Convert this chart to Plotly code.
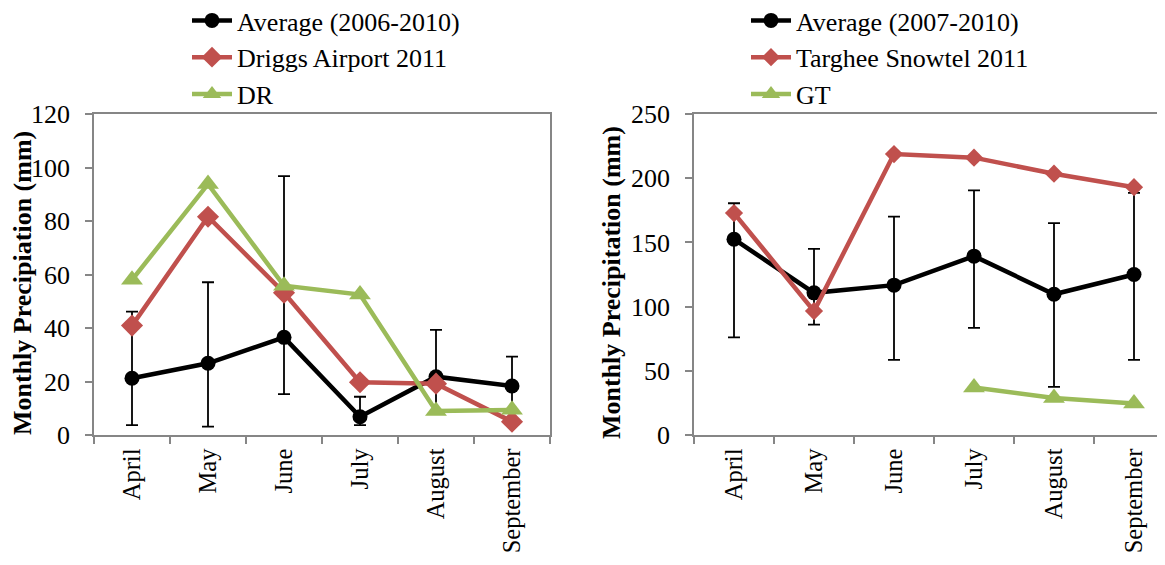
import plotly.graph_objects as go

months = ["April", "May", "June", "July", "August", "September"]

# Left panel (Driggs)
avg_left = [21.2, 26.8, 36.5, 6.8, 21.8, 18.3]
avg_left_hi = [46.1, 57.1, 96.8, 14.3, 39.3, 29.3]
avg_left_lo = [3.7, 3.1, 15.3, 3.7, 8.0, 9.0]
driggs_2011 = [40.9, 81.6, 53.2, 19.7, 19.2, 5.0]
dr = [58.0, 93.8, 55.8, 52.5, 9.0, 9.4]

# Right panel (Targhee)
avg_right = [152.5, 110.7, 116.7, 139.3, 109.6, 125.0]
avg_right_hi = [180.5, 145.0, 170.0, 190.5, 165.0, 188.5]
avg_right_lo = [76.0, 86.0, 58.5, 83.5, 37.5, 58.5]
targhee_2011 = [172.8, 96.5, 218.8, 216.0, 203.5, 193.0]
gt = [None, None, None, 37.0, 28.8, 24.5]

y_title_left = "Monthly Precipiation (mm)"
y_title_right = "Monthly Precipitation (mm)"

BLACK = "#000000"
RED = "#C0504D"
GREEN = "#9BBB59"
AXIS = "#868686"
FONT = "Liberation Serif"
FS = 26
TFS = 26
XFS = 24.5

fig = go.Figure()

def err(avg, hi, lo):
    return dict(type="data", symmetric=False,
                array=[h - a for h, a in zip(hi, avg)],
                arrayminus=[a - l for a, l in zip(avg, lo)],
                color="black", thickness=1.8, width=6)

fig.add_trace(go.Scatter(x=months, y=avg_left, name="Average (2006-2010)", mode="lines+markers",
                         line=dict(color=BLACK, width=4.5), marker=dict(symbol="circle", size=15, color=BLACK),
                         error_y=err(avg_left, avg_left_hi, avg_left_lo), xaxis="x", yaxis="y", legend="legend"))
fig.add_trace(go.Scatter(x=months, y=driggs_2011, name="Driggs Airport 2011", mode="lines+markers",
                         line=dict(color=RED, width=4.5), marker=dict(symbol="diamond", size=17, color=RED),
                         xaxis="x", yaxis="y", legend="legend"))
fig.add_trace(go.Scatter(x=months, y=dr, name="DR", mode="lines+markers",
                         line=dict(color=GREEN, width=4.5), marker=dict(symbol="triangle-up", size=19, color=GREEN),
                         xaxis="x", yaxis="y", legend="legend"))

fig.add_trace(go.Scatter(x=months, y=avg_right, name="Average (2007-2010)", mode="lines+markers",
                         line=dict(color=BLACK, width=4.5), marker=dict(symbol="circle", size=15, color=BLACK),
                         error_y=err(avg_right, avg_right_hi, avg_right_lo), xaxis="x2", yaxis="y2", legend="legend2"))
fig.add_trace(go.Scatter(x=months, y=targhee_2011, name="Targhee Snowtel 2011", mode="lines+markers",
                         line=dict(color=RED, width=4.5), marker=dict(symbol="diamond", size=14, color=RED),
                         xaxis="x2", yaxis="y2", legend="legend2"))
fig.add_trace(go.Scatter(x=months, y=gt, name="GT", mode="lines+markers",
                         line=dict(color=GREEN, width=4.5), marker=dict(symbol="triangle-up", size=19, color=GREEN),
                         xaxis="x2", yaxis="y2", legend="legend2"))

# The page adds an 8px body margin around the figure; size the figure so the page is 1165x565.
OFF = 8
W, H = 1165 - 2 * OFF, 565 - 2 * OFF
ydom = [(H - (435 - OFF)) / H, (H - (114 - OFF)) / H]

xcommon = dict(type="category", categoryorder="array", categoryarray=months, tickson="boundaries",
               ticks="outside", ticklen=7, tickcolor=AXIS, tickwidth=1.5,
               showline=True, linecolor=AXIS, linewidth=1.5, showgrid=False, zeroline=False,
               tickangle=-90, tickfont=dict(family=FONT, size=XFS, color="black"), automargin=False,
               ticklabelstandoff=2)
ycommon = dict(ticks="outside", ticklen=7, tickcolor=AXIS, tickwidth=1.5,
               showline=True, linecolor=AXIS, linewidth=1.5, showgrid=False, zeroline=False,
               tickfont=dict(family=FONT, size=TFS, color="black"), automargin=False,
               ticklabelstandoff=10)

right_x0 = 694 - OFF
right_end = -0.5 + (W - right_x0) / 80.0

title_y = (H - (283 - OFF)) / H

fig.update_layout(
    width=W, height=H, margin=dict(l=0, r=0, t=0, b=0, autoexpand=False),
    paper_bgcolor="white", plot_bgcolor="white",
    font=dict(family=FONT, size=FS, color="black"),
    xaxis=dict(domain=[(94 - OFF) / W, (550 - OFF) / W], range=[-0.5, 5.5], anchor="y", mirror=True, **xcommon),
    yaxis=dict(domain=ydom, range=[0, 120], dtick=20, anchor="x", mirror=True, **ycommon),
    xaxis2=dict(domain=[right_x0 / W, 1.0], range=[-0.5, right_end], anchor="y2", mirror=True, **xcommon),
    yaxis2=dict(domain=ydom, range=[0, 250], dtick=50, anchor="x2", mirror=False, **ycommon),
    legend=dict(x=179 / W, y=1.02, xanchor="left", yanchor="top", bgcolor="rgba(0,0,0,0)",
                font=dict(family=FONT, size=FS), tracegroupgap=0, itemwidth=40),
    legend2=dict(x=738 / W, y=1.02, xanchor="left", yanchor="top", bgcolor="rgba(0,0,0,0)",
                 font=dict(family=FONT, size=FS), tracegroupgap=0, itemwidth=40),
    showlegend=True,
    annotations=[
        dict(text="<b>" + y_title_left + "</b>", xref="paper", yref="paper", x=(22 - OFF) / W, y=title_y,
             xanchor="center", yanchor="middle", textangle=-90, showarrow=False,
             font=dict(family=FONT, size=FS, color="black")),
        dict(text="<b>" + y_title_right + "</b>", xref="paper", yref="paper", x=(611 - OFF) / W, y=title_y,
             xanchor="center", yanchor="middle", textangle=-90, showarrow=False,
             font=dict(family=FONT, size=FS, color="black")),
    ],
)

fig.write_html("out.html")
